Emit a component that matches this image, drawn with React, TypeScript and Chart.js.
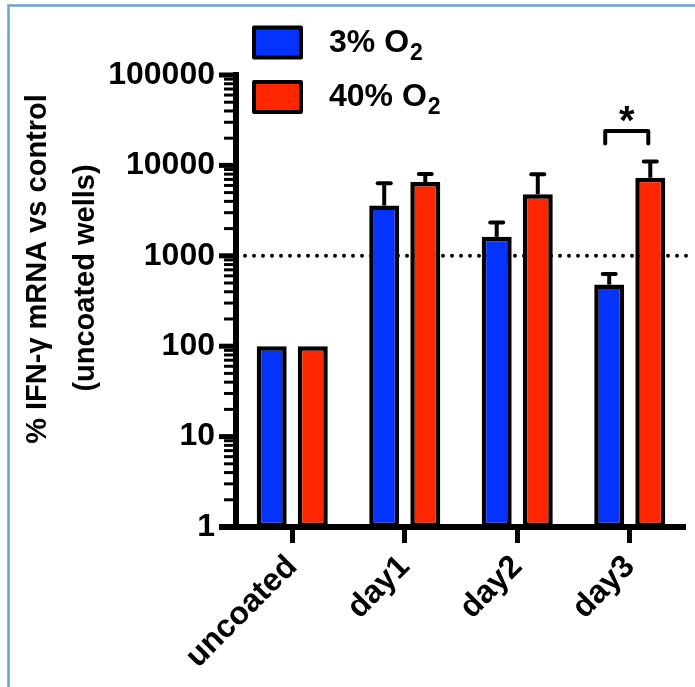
import React, { useEffect, useRef } from "react";
import { Chart, registerables } from "chart.js";

Chart.register(...registerables);

// ---------- data ----------
const CATEGORIES = ["uncoated", "day1", "day2", "day3"];
const SERIES_NAMES = ["3% O", "40% O"]; // each followed by subscript "2"
const SERIES_SUBSCRIPT = "2";
const LOW_O2 = [100, 3600, 1620, 480];
const LOW_O2_SD = [0, 2750, 720, 150];
const HIGH_O2 = [100, 6550, 4800, 7300];
const HIGH_O2_SD = [0, 1500, 3200, 3750];
const Y_TICKS = [1, 10, 100, 1000, 10000, 100000];
const MINOR_MULTIPLIERS = [2, 3, 4, 5, 6, 7, 8, 9];
const REFERENCE_VALUE = 1000;
const SIG_CATEGORY = 3;
const SIG_TOP = 24000;
const SIG_LEG = 17500;
const SIG_LABEL = "*";
const Y_TITLE = ["% IFN-\u03B3 mRNA vs control", "(uncoated wells)"];

// ---------- styles ----------
const BLUE = "#0433ff";
const RED = "#ff2600";
const FONT = "'Liberation Sans', Arial, Helvetica, sans-serif";
const SERIES_COLORS = [BLUE, RED];

const decor = {
  id: "decor",
  beforeDraw(chart: any) {
    const ctx = chart.ctx;
    ctx.save();
    ctx.fillStyle = "#ffffff";
    ctx.fillRect(0, 0, chart.width, chart.height);
    ctx.strokeStyle = "#6f9fd8";
    ctx.lineWidth = 2.5;
    ctx.beginPath();
    ctx.moveTo(8.5, chart.height);
    ctx.lineTo(8.5, 5.5);
    ctx.lineTo(chart.width, 5.5);
    ctx.stroke();
    ctx.restore();
  },
  beforeDatasetsDraw(chart: any) {
    const ctx = chart.ctx;
    const y = chart.scales.y.getPixelForValue(REFERENCE_VALUE);
    const area = chart.chartArea;
    ctx.save();
    ctx.strokeStyle = "#000";
    ctx.lineWidth = 4;
    ctx.lineCap = "round";
    ctx.setLineDash([0, 9]);
    ctx.beginPath();
    ctx.moveTo(area.left + 9, y);
    ctx.lineTo(area.right + 2, y);
    ctx.stroke();
    ctx.restore();
  },
  afterDatasetsDraw(chart: any) {
    const ctx = chart.ctx;
    const ys = chart.scales.y;
    const area = chart.chartArea;
    const sds = [LOW_O2_SD, HIGH_O2_SD];
    const vals = [LOW_O2, HIGH_O2];
    ctx.save();
    ctx.strokeStyle = "#000";
    ctx.fillStyle = "#000";

    // error bars (upper only)
    for (let d = 0; d < 2; d++) {
      const meta = chart.getDatasetMeta(d);
      meta.data.forEach((bar: any, i: number) => {
        const sd = sds[d][i];
        if (!sd) return;
        const yTop = ys.getPixelForValue(vals[d][i] + sd);
        ctx.lineWidth = 4;
        ctx.lineCap = "butt";
        ctx.beginPath();
        ctx.moveTo(bar.x, bar.y);
        ctx.lineTo(bar.x, yTop);
        ctx.stroke();
        ctx.lineCap = "round";
        ctx.beginPath();
        ctx.moveTo(bar.x - 6.5, yTop);
        ctx.lineTo(bar.x + 6.5, yTop);
        ctx.stroke();
      });
    }

    // x axis line
    ctx.lineCap = "butt";
    ctx.lineWidth = 6;
    ctx.beginPath();
    ctx.moveTo(area.left - 17, area.bottom);
    ctx.lineTo(area.right, area.bottom);
    ctx.stroke();

    // y ticks: major and minor
    for (let k = 0; k < Y_TICKS.length; k++) {
      const v = Y_TICKS[k];
      const p = ys.getPixelForValue(v);
      ctx.lineWidth = 5;
      ctx.beginPath();
      ctx.moveTo(area.left - 17, p);
      ctx.lineTo(area.left, p);
      ctx.stroke();
      if (k < Y_TICKS.length - 1) {
        for (const m of MINOR_MULTIPLIERS) {
          const pm = ys.getPixelForValue(v * m);
          ctx.lineWidth = 3;
          ctx.beginPath();
          ctx.moveTo(area.left - 12, pm);
          ctx.lineTo(area.left, pm);
          ctx.stroke();
        }
      }
    }

    // significance bracket
    const b0 = chart.getDatasetMeta(0).data[SIG_CATEGORY];
    const b1 = chart.getDatasetMeta(1).data[SIG_CATEGORY];
    const x1 = b0.x - 4;
    const x2 = b1.x - 2;
    const yb = ys.getPixelForValue(SIG_TOP);
    const yl = ys.getPixelForValue(SIG_LEG);
    ctx.lineWidth = 4;
    ctx.lineCap = "round";
    ctx.lineJoin = "round";
    ctx.beginPath();
    ctx.moveTo(x1, yl);
    ctx.lineTo(x1, yb);
    ctx.lineTo(x2, yb);
    ctx.lineTo(x2, yl);
    ctx.stroke();
    ctx.font = `bold 40px ${FONT}`;
    ctx.textAlign = "center";
    ctx.textBaseline = "middle";
    ctx.fillText(SIG_LABEL, (x1 + x2) / 2, yb - 8);

    // legend
    const legendRows = [42.5, 97];
    for (let d = 0; d < 2; d++) {
      const cy = legendRows[d];
      ctx.fillStyle = SERIES_COLORS[d];
      ctx.fillRect(254, cy - 15, 47, 30);
      ctx.strokeStyle = "#000";
      ctx.lineWidth = 4;
      ctx.strokeRect(254, cy - 15, 47, 30);
      ctx.fillStyle = "#000";
      ctx.textAlign = "left";
      ctx.textBaseline = "alphabetic";
      ctx.font = `bold 32px ${FONT}`;
      ctx.fillText(SERIES_NAMES[d], 329, cy + 9);
      const w = ctx.measureText(SERIES_NAMES[d]).width;
      ctx.font = `bold 23px ${FONT}`;
      ctx.fillText(SERIES_SUBSCRIPT, 329 + w + 1, cy + 17);
    }

    // y axis title
    ctx.font = `bold 29px ${FONT}`;
    ctx.textAlign = "center";
    ctx.textBaseline = "middle";
    const titlePos = [
      [38, 269],
      [86, 278],
    ];
    Y_TITLE.forEach((t, i) => {
      ctx.save();
      ctx.translate(titlePos[i][0], titlePos[i][1]);
      ctx.rotate(-Math.PI / 2);
      ctx.fillText(t, 0, 0);
      ctx.restore();
    });
    ctx.restore();
  },
};

export default function App() {
  const ref = useRef<HTMLCanvasElement>(null);
  useEffect(() => {
    const canvas = ref.current!;
    const chart = new Chart(canvas, {
      type: "bar",
      data: {
        labels: CATEGORIES,
        datasets: [
          {
            label: SERIES_NAMES[0] + SERIES_SUBSCRIPT,
            data: LOW_O2,
            backgroundColor: BLUE,
            borderColor: "#000",
            borderWidth: 4.5,
            borderSkipped: false,
            categoryPercentage: 0.73,
            barPercentage: 0.73,
          },
          {
            label: SERIES_NAMES[1] + SERIES_SUBSCRIPT,
            data: HIGH_O2,
            backgroundColor: RED,
            borderColor: "#000",
            borderWidth: 4.5,
            borderSkipped: false,
            categoryPercentage: 0.73,
            barPercentage: 0.73,
          },
        ],
      },
      options: {
        responsive: false,
        animation: false,
        layout: { padding: { left: 0, top: 75, right: 9, bottom: 0 } },
        plugins: { legend: { display: false }, tooltip: { enabled: false } },
        scales: {
          x: {
            grid: {
              display: true,
              drawOnChartArea: false,
              drawTicks: true,
              offset: false,
              tickLength: 16,
              tickWidth: 5,
              tickColor: "#000",
            },
            border: { display: false },
            ticks: {
              color: "#000",
              font: { family: FONT, size: 32, weight: "bold" },
              minRotation: 45,
              maxRotation: 45,
              padding: 5,
              autoSkip: false,
            },
            afterFit: (s: any) => {
              s.height = 160;
            },
          },
          y: {
            type: "logarithmic",
            min: 1,
            max: 100000,
            afterBuildTicks: (s: any) => {
              s.ticks = Y_TICKS.map((v) => ({ value: v }));
            },
            afterFit: (s: any) => {
              s.width = 236;
            },
            grid: { display: false, drawTicks: false },
            border: { display: true, color: "#000", width: 6 },
            ticks: {
              autoSkip: false,
              padding: 21,
              color: "#000",
              font: { family: FONT, size: 32, weight: "bold" },
              callback: (v: any) => String(v),
            },
          },
        },
      },
      plugins: [decor],
    } as any);
    return () => chart.destroy();
  }, []);
  return (
    <div style={{ position: "absolute", left: 0, top: 0, width: 695, height: 687, background: "#fff" }}>
      <canvas ref={ref} width={695} height={687} style={{ display: "block" }} />
    </div>
  );
}
